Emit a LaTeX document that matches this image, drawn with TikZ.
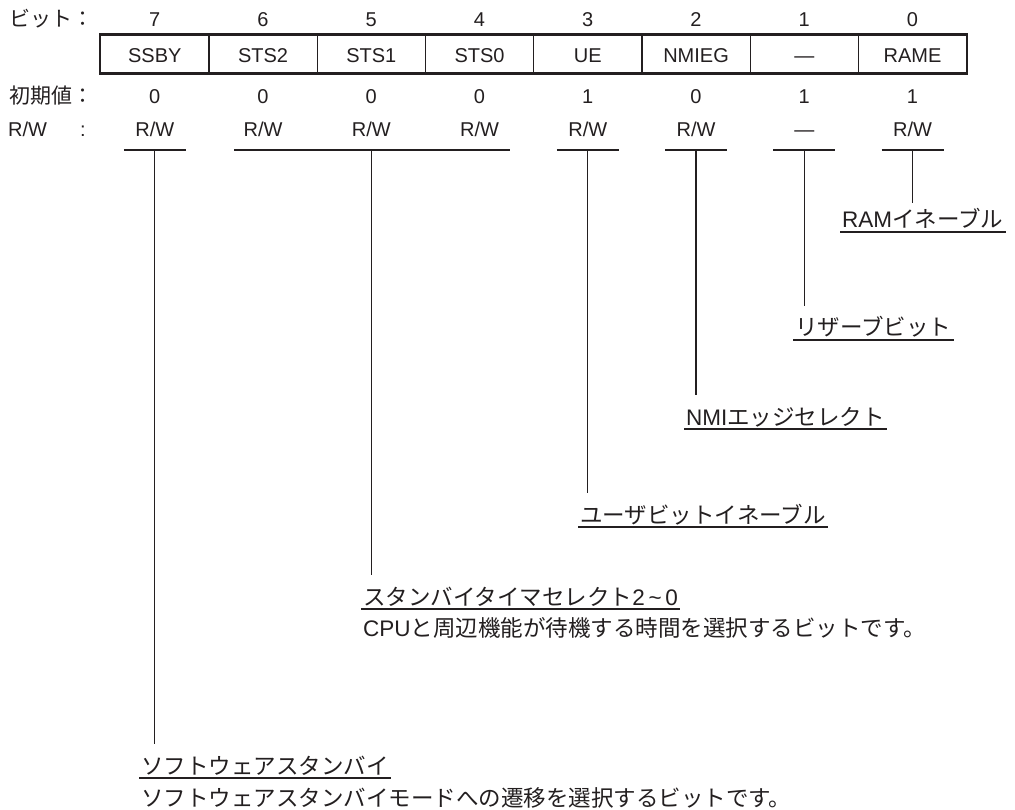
\documentclass[tikz,border=0pt]{standalone}
\usepackage{fontspec}
\setmainfont{Liberation Sans}
\newfontfamily\jpfont{Noto Sans CJK JP}
\usetikzlibrary{positioning}
\definecolor{ink}{RGB}{35,31,32}
\newcommand{\jp}[1]{{\jpfont #1}}

\begin{document}
\begin{tikzpicture}[x=1pt,y=-1pt,line cap=butt,
  every node/.style={inner sep=0pt,text=ink,font=\fontsize{20}{24}\selectfont},
  cell/.style={draw=ink,line width=1.3pt,minimum width=108.25pt,minimum height=38pt,
    text height=18pt,text depth=0pt},
  lbl/.style={anchor=base west,font=\fontsize{22.5}{27}\selectfont,
    inner xsep=2pt,inner ysep=8pt,text height=22pt,text depth=6pt},
  desc/.style={anchor=base west,font=\fontsize{22.5}{27}\selectfont,inner xsep=2pt},
  wire/.style={draw=ink,line width=1.3pt},
  uline/.style={draw=ink,line width=1.5pt}]
  \useasboundingbox (0,0) rectangle (1015,810);

  % row heads
  \node[anchor=base west,font=\fontsize{21}{25}\selectfont] (hbit) at (9,27) {\jp{ビット：}};
  \node[anchor=base west,font=\fontsize{21}{25}\selectfont] (hinit) at (9,104) {\jp{初期値：}};
  \node[anchor=base west] (hrw) at (8,137) {R/W};
  \node[anchor=base] (hcolon) at (83,137) {:};

  % register
  \foreach \i/\name/\init/\rw in {7/SSBY/0/{R/W}, 6/STS2/0/{R/W}, 5/STS1/0/{R/W}, 4/STS0/0/{R/W},
                                 3/UE/1/{R/W}, 2/NMIEG/0/{R/W}, 1/—/1/—, 0/RAME/1/{R/W}} {
    \node[anchor=base] (num\i) at ({154.8+108.25*(7-\i)},27) {\i};
    \node[cell] (cell\i) at ({154.8+108.25*(7-\i)},54) {\name};
    \node[anchor=base] (init\i) at ({154.8+108.25*(7-\i)},104) {\init};
    \node[anchor=base] (rw\i) at ({154.8+108.25*(7-\i)},137) {\rw};
    \coordinate (tap\i) at ({154.8+108.25*(7-\i)},150);
  }
  \draw[ink,line width=2.2pt] (cell7.north west) rectangle (cell0.south east);

  % bars
  \foreach \i in {7,3,2,1,0}
    \draw[wire] ([xshift=-31pt]tap\i) -- ([xshift=31pt]tap\i);
  \draw[wire] ([xshift=-29pt]tap6) -- ([xshift=30pt]tap4);

  % labels
  \node[lbl,inner ysep=3pt] (ram) at (840,228) {RAM\jp{イネーブル}};
  \node[lbl] (rsv) at (793,336) {\jp{リザーブビット}};
  \node[lbl] (nmi) at (684,425) {NMI\jp{エッジセレクト}};
  \node[lbl] (ue) at (578,523) {\jp{ユーザビットイネーブル}};
  \node[lbl] (sts) at (361,605) {\jp{スタンバイタイマセレクト}2\,\textasciitilde\,0};
  \node[desc] (stsd) at (361,636) {CPU\jp{と周辺機能が待機する時間を選択するビットです。}};
  \node[lbl] (ssby) at (139,774) {\jp{ソフトウェアスタンバイ}};
  \node[desc] (ssbyd) at (139,806) {\jp{ソフトウェアスタンバイモードへの遷移を選択するビットです。}};
  \foreach \n in {ram,rsv,nmi,ue,sts,ssby}
    \draw[uline] ([yshift=-4pt]\n.base west) -- ([yshift=-4pt]\n.base east);

  % leads
  \draw[wire] (tap0) -- (tap0 |- ram.north);
  \draw[wire] (tap1) -- (tap1 |- rsv.north);
  \draw[wire] (tap2) -- (tap2 |- nmi.north);
  \draw[wire] (tap3) -- (tap3 |- ue.north);
  \draw[wire] (tap5) -- (tap5 |- sts.north);
  \draw[wire] (tap7) -- (tap7 |- ssby.north);
\end{tikzpicture}
\end{document}
